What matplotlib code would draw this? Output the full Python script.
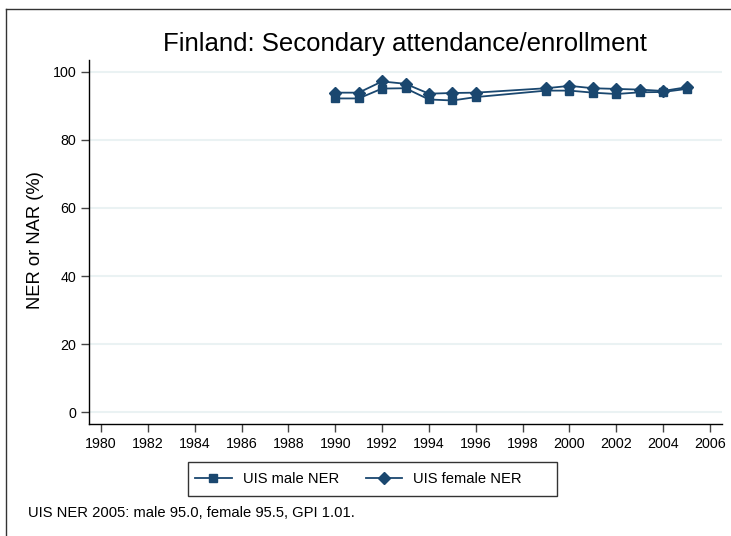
import matplotlib
matplotlib.use("Agg")
import matplotlib.pyplot as plt
from matplotlib.lines import Line2D
from matplotlib.patches import Rectangle

plt.rcParams['font.family'] = ['Liberation Sans', 'DejaVu Sans']

years = [1990, 1991, 1992, 1993, 1994, 1995, 1996, 1999, 2000, 2001, 2002, 2003, 2004, 2005]
male_ner = [92.2, 92.2, 95.1, 95.2, 91.9, 91.6, 92.6, 94.5, 94.5, 93.9, 93.5, 94.0, 94.1, 95.0]
female_ner = [93.9, 93.9, 97.2, 96.5, 93.6, 93.8, 93.9, 95.2, 95.9, 95.2, 95.0, 94.8, 94.4, 95.5]
xticks = list(range(1980, 2007, 2))
yticks = [0, 20, 40, 60, 80, 100]

title = "Finland: Secondary attendance/enrollment"
ylabel = "NER or NAR (%)"
note = "UIS NER 2005: male 95.0, female 95.5, GPI 1.01."
labels = ["UIS male NER", "UIS female NER"]

navy = "#1a476f"
W, H = 731, 536
fig = plt.figure(figsize=(W / 100, H / 100), dpi=100)

# outer frame (top and left edges visible)
fig.add_artist(Line2D([6 / W, 1.0], [1 - 9 / H, 1 - 9 / H], transform=fig.transFigure, color="#333333", lw=1.0))
fig.add_artist(Line2D([6 / W, 6 / W], [0.0, 1 - 9 / H], transform=fig.transFigure, color="#333333", lw=1.0))

ax = fig.add_axes([89 / W, 1 - 424 / H, (722 - 89) / W, (424 - 60) / H])
ax.plot(years, male_ner, color=navy, lw=1.3, marker='s', ms=5.8, mec=navy, mfc=navy, label=labels[0], zorder=3)
ax.plot(years, female_ner, color=navy, lw=1.3, marker='D', ms=6.2, mec=navy, mfc=navy, label=labels[1], zorder=4)

ax.set_xlim(1979.49, 2006.51)
ax.set_ylim(-3.5, 103.5)
ax.set_xticks(xticks)
ax.set_yticks(yticks)
ax.tick_params(axis='both', direction='out', length=6, width=1.0, color="#444444", labelsize=10.3, pad=3)
ax.yaxis.grid(True, color="#eaf2f3", lw=1.5)
ax.set_axisbelow(True)
for s in ['top', 'right']:
    ax.spines[s].set_visible(False)
for s in ['left', 'bottom']:
    ax.spines[s].set_color("black")
    ax.spines[s].set_linewidth(1.0)

fig.text(405 / W, 1 - 50.5 / H, title, ha='center', va='baseline', fontsize=18.5)
fig.text(36 / W, 1 - 240 / H, ylabel, ha='center', va='center', rotation=90, fontsize=13.2)
fig.text(28 / W, 1 - 513 / H, note, ha='left', va='center', fontsize=10.6)

# legend box
fig.add_artist(Rectangle((188 / W, 1 - 496 / H), (557 - 188) / W, (496 - 462) / H,
                         transform=fig.transFigure, fill=False, edgecolor="#333333", lw=1.0))
leg = fig.legend(loc='center left', bbox_to_anchor=(195 / W, 1 - 479 / H), ncol=2, fontsize=10.6,
                 frameon=False, handlelength=2.5, columnspacing=1.8, borderpad=0.0,
                 borderaxespad=0.0, handletextpad=0.75)

fig.savefig("out.png", dpi=100)
